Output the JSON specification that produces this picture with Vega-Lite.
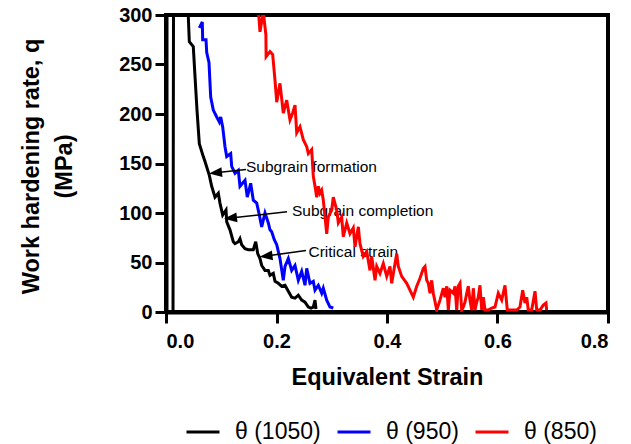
{
  "$schema": "https://vega.github.io/schema/vega-lite/v6.json",
  "width": 442,
  "height": 297,
  "autosize": {"type": "none"},
  "padding": {"left": 166, "top": 15, "right": 23, "bottom": 132},
  "background": "white",
  "datasets": {
    "curves": [
      {"series": "θ (1050)", "strain": 0.0127, "q": 1},
      {"series": "θ (1050)", "strain": 0.0136, "q": 310},
      {"series": "θ (1050)", "strain": 0.0389, "q": 310},
      {"series": "θ (1050)", "strain": 0.0404, "q": 298},
      {"series": "θ (1050)", "strain": 0.0422, "q": 273},
      {"series": "θ (1050)", "strain": 0.0494, "q": 268},
      {"series": "θ (1050)", "strain": 0.0525, "q": 238},
      {"series": "θ (1050)", "strain": 0.0561, "q": 204},
      {"series": "θ (1050)", "strain": 0.0603, "q": 170},
      {"series": "θ (1050)", "strain": 0.0675, "q": 157},
      {"series": "θ (1050)", "strain": 0.0706, "q": 152},
      {"series": "θ (1050)", "strain": 0.0784, "q": 138},
      {"series": "θ (1050)", "strain": 0.0827, "q": 127},
      {"series": "θ (1050)", "strain": 0.0887, "q": 116},
      {"series": "θ (1050)", "strain": 0.0947, "q": 120},
      {"series": "θ (1050)", "strain": 0.0977, "q": 110},
      {"series": "θ (1050)", "strain": 0.1026, "q": 98},
      {"series": "θ (1050)", "strain": 0.1086, "q": 103},
      {"series": "θ (1050)", "strain": 0.1099, "q": 91},
      {"series": "θ (1050)", "strain": 0.1158, "q": 83},
      {"series": "θ (1050)", "strain": 0.1218, "q": 71},
      {"series": "θ (1050)", "strain": 0.1249, "q": 69},
      {"series": "θ (1050)", "strain": 0.1309, "q": 71},
      {"series": "θ (1050)", "strain": 0.1339, "q": 74},
      {"series": "θ (1050)", "strain": 0.1370, "q": 68},
      {"series": "θ (1050)", "strain": 0.1430, "q": 64},
      {"series": "θ (1050)", "strain": 0.1490, "q": 63},
      {"series": "θ (1050)", "strain": 0.1580, "q": 63},
      {"series": "θ (1050)", "strain": 0.1624, "q": 71},
      {"series": "θ (1050)", "strain": 0.1660, "q": 59},
      {"series": "θ (1050)", "strain": 0.1701, "q": 54},
      {"series": "θ (1050)", "strain": 0.1732, "q": 47},
      {"series": "θ (1050)", "strain": 0.1792, "q": 42},
      {"series": "θ (1050)", "strain": 0.1852, "q": 42},
      {"series": "θ (1050)", "strain": 0.1882, "q": 37},
      {"series": "θ (1050)", "strain": 0.1942, "q": 39},
      {"series": "θ (1050)", "strain": 0.1973, "q": 31},
      {"series": "θ (1050)", "strain": 0.2033, "q": 29},
      {"series": "θ (1050)", "strain": 0.2094, "q": 26},
      {"series": "θ (1050)", "strain": 0.2154, "q": 27},
      {"series": "θ (1050)", "strain": 0.2214, "q": 21},
      {"series": "θ (1050)", "strain": 0.2275, "q": 15},
      {"series": "θ (1050)", "strain": 0.2335, "q": 14},
      {"series": "θ (1050)", "strain": 0.2395, "q": 17},
      {"series": "θ (1050)", "strain": 0.2456, "q": 12},
      {"series": "θ (1050)", "strain": 0.2516, "q": 10},
      {"series": "θ (1050)", "strain": 0.2576, "q": 5},
      {"series": "θ (1050)", "strain": 0.2624, "q": 4},
      {"series": "θ (1050)", "strain": 0.2666, "q": 5},
      {"series": "θ (1050)", "strain": 0.2697, "q": 12},
      {"series": "θ (1050)", "strain": 0.2715, "q": 3},

      {"series": "θ (950)", "strain": 0.0603, "q": 287},
      {"series": "θ (950)", "strain": 0.0657, "q": 293},
      {"series": "θ (950)", "strain": 0.0664, "q": 275},
      {"series": "θ (950)", "strain": 0.0724, "q": 275},
      {"series": "θ (950)", "strain": 0.0737, "q": 262},
      {"series": "θ (950)", "strain": 0.0778, "q": 252},
      {"series": "θ (950)", "strain": 0.0809, "q": 217},
      {"series": "θ (950)", "strain": 0.0856, "q": 204},
      {"series": "θ (950)", "strain": 0.0918, "q": 197},
      {"series": "θ (950)", "strain": 0.0965, "q": 192},
      {"series": "θ (950)", "strain": 0.0990, "q": 197},
      {"series": "θ (950)", "strain": 0.1026, "q": 187},
      {"series": "θ (950)", "strain": 0.1068, "q": 167},
      {"series": "θ (950)", "strain": 0.1099, "q": 157},
      {"series": "θ (950)", "strain": 0.1171, "q": 160},
      {"series": "θ (950)", "strain": 0.1189, "q": 147},
      {"series": "θ (950)", "strain": 0.1249, "q": 140},
      {"series": "θ (950)", "strain": 0.1309, "q": 143},
      {"series": "θ (950)", "strain": 0.1339, "q": 127},
      {"series": "θ (950)", "strain": 0.1430, "q": 133},
      {"series": "θ (950)", "strain": 0.1471, "q": 116},
      {"series": "θ (950)", "strain": 0.1533, "q": 130},
      {"series": "θ (950)", "strain": 0.1580, "q": 113},
      {"series": "θ (950)", "strain": 0.1642, "q": 110},
      {"series": "θ (950)", "strain": 0.1689, "q": 98},
      {"series": "θ (950)", "strain": 0.1732, "q": 86},
      {"series": "θ (950)", "strain": 0.1792, "q": 100},
      {"series": "θ (950)", "strain": 0.1852, "q": 90},
      {"series": "θ (950)", "strain": 0.1882, "q": 83},
      {"series": "θ (950)", "strain": 0.1913, "q": 81},
      {"series": "θ (950)", "strain": 0.1960, "q": 73},
      {"series": "θ (950)", "strain": 0.2004, "q": 68},
      {"series": "θ (950)", "strain": 0.2063, "q": 54},
      {"series": "θ (950)", "strain": 0.2123, "q": 32},
      {"series": "θ (950)", "strain": 0.2154, "q": 46},
      {"series": "θ (950)", "strain": 0.2214, "q": 54},
      {"series": "θ (950)", "strain": 0.2275, "q": 42},
      {"series": "θ (950)", "strain": 0.2335, "q": 47},
      {"series": "θ (950)", "strain": 0.2395, "q": 32},
      {"series": "θ (950)", "strain": 0.2456, "q": 41},
      {"series": "θ (950)", "strain": 0.2516, "q": 27},
      {"series": "θ (950)", "strain": 0.2547, "q": 44},
      {"series": "θ (950)", "strain": 0.2606, "q": 29},
      {"series": "θ (950)", "strain": 0.2666, "q": 31},
      {"series": "θ (950)", "strain": 0.2697, "q": 22},
      {"series": "θ (950)", "strain": 0.2757, "q": 27},
      {"series": "θ (950)", "strain": 0.2818, "q": 19},
      {"series": "θ (950)", "strain": 0.2847, "q": 24},
      {"series": "θ (950)", "strain": 0.2909, "q": 12},
      {"series": "θ (950)", "strain": 0.2968, "q": 5},
      {"series": "θ (950)", "strain": 0.3028, "q": 4},

      {"series": "θ (850)", "strain": 0.1671, "q": 306},
      {"series": "θ (850)", "strain": 0.1701, "q": 283},
      {"series": "θ (850)", "strain": 0.1761, "q": 303},
      {"series": "θ (850)", "strain": 0.1808, "q": 280},
      {"series": "θ (850)", "strain": 0.1812, "q": 258},
      {"series": "θ (850)", "strain": 0.1882, "q": 263},
      {"series": "θ (850)", "strain": 0.1931, "q": 260},
      {"series": "θ (850)", "strain": 0.1973, "q": 234},
      {"series": "θ (850)", "strain": 0.2004, "q": 212},
      {"series": "θ (850)", "strain": 0.2063, "q": 231},
      {"series": "θ (850)", "strain": 0.2123, "q": 201},
      {"series": "θ (850)", "strain": 0.2185, "q": 214},
      {"series": "θ (850)", "strain": 0.2244, "q": 194},
      {"series": "θ (850)", "strain": 0.2293, "q": 201},
      {"series": "θ (850)", "strain": 0.2335, "q": 209},
      {"series": "θ (850)", "strain": 0.2366, "q": 181},
      {"series": "θ (850)", "strain": 0.2425, "q": 187},
      {"series": "θ (850)", "strain": 0.2485, "q": 174},
      {"series": "θ (850)", "strain": 0.2547, "q": 167},
      {"series": "θ (850)", "strain": 0.2576, "q": 160},
      {"series": "θ (850)", "strain": 0.2637, "q": 164},
      {"series": "θ (850)", "strain": 0.2666, "q": 137},
      {"series": "θ (850)", "strain": 0.2697, "q": 127},
      {"series": "θ (850)", "strain": 0.2728, "q": 116},
      {"series": "θ (850)", "strain": 0.2757, "q": 127},
      {"series": "θ (850)", "strain": 0.2787, "q": 120},
      {"series": "θ (850)", "strain": 0.2818, "q": 123},
      {"series": "θ (850)", "strain": 0.2847, "q": 113},
      {"series": "θ (850)", "strain": 0.2909, "q": 79},
      {"series": "θ (850)", "strain": 0.2938, "q": 96},
      {"series": "θ (850)", "strain": 0.2999, "q": 103},
      {"series": "θ (850)", "strain": 0.3028, "q": 116},
      {"series": "θ (850)", "strain": 0.3090, "q": 103},
      {"series": "θ (850)", "strain": 0.3119, "q": 90},
      {"series": "θ (850)", "strain": 0.3180, "q": 96},
      {"series": "θ (850)", "strain": 0.3209, "q": 76},
      {"series": "θ (850)", "strain": 0.3271, "q": 90},
      {"series": "θ (850)", "strain": 0.3330, "q": 79},
      {"series": "θ (850)", "strain": 0.3390, "q": 85},
      {"series": "θ (850)", "strain": 0.3421, "q": 66},
      {"series": "θ (850)", "strain": 0.3481, "q": 86},
      {"series": "θ (850)", "strain": 0.3511, "q": 69},
      {"series": "θ (850)", "strain": 0.3571, "q": 56},
      {"series": "θ (850)", "strain": 0.3633, "q": 61},
      {"series": "θ (850)", "strain": 0.3692, "q": 42},
      {"series": "θ (850)", "strain": 0.3723, "q": 56},
      {"series": "θ (850)", "strain": 0.3783, "q": 32},
      {"series": "θ (850)", "strain": 0.3814, "q": 46},
      {"series": "θ (850)", "strain": 0.3873, "q": 39},
      {"series": "θ (850)", "strain": 0.3933, "q": 49},
      {"series": "θ (850)", "strain": 0.3995, "q": 36},
      {"series": "θ (850)", "strain": 0.4054, "q": 46},
      {"series": "θ (850)", "strain": 0.4085, "q": 29},
      {"series": "θ (850)", "strain": 0.4176, "q": 59},
      {"series": "θ (850)", "strain": 0.4205, "q": 46},
      {"series": "θ (850)", "strain": 0.4266, "q": 36},
      {"series": "θ (850)", "strain": 0.4357, "q": 29},
      {"series": "θ (850)", "strain": 0.4416, "q": 22},
      {"series": "θ (850)", "strain": 0.4476, "q": 15},
      {"series": "θ (850)", "strain": 0.4538, "q": 26},
      {"series": "θ (850)", "strain": 0.4597, "q": 34},
      {"series": "θ (850)", "strain": 0.4657, "q": 44},
      {"series": "θ (850)", "strain": 0.4688, "q": 46},
      {"series": "θ (850)", "strain": 0.4719, "q": 32},
      {"series": "θ (850)", "strain": 0.4748, "q": 29},
      {"series": "θ (850)", "strain": 0.4778, "q": 19},
      {"series": "θ (850)", "strain": 0.4809, "q": 32},
      {"series": "θ (850)", "strain": 0.4838, "q": 19},
      {"series": "θ (850)", "strain": 0.4900, "q": 2},
      {"series": "θ (850)", "strain": 0.4959, "q": 12},
      {"series": "θ (850)", "strain": 0.5019, "q": 24},
      {"series": "θ (850)", "strain": 0.5050, "q": 15},
      {"series": "θ (850)", "strain": 0.5081, "q": 26},
      {"series": "θ (850)", "strain": 0.5110, "q": 2},
      {"series": "θ (850)", "strain": 0.5140, "q": 22},
      {"series": "θ (850)", "strain": 0.5200, "q": 19},
      {"series": "θ (850)", "strain": 0.5231, "q": 26},
      {"series": "θ (850)", "strain": 0.5262, "q": 2},
      {"series": "θ (850)", "strain": 0.5290, "q": 26},
      {"series": "θ (850)", "strain": 0.5321, "q": 29},
      {"series": "θ (850)", "strain": 0.5352, "q": 2},
      {"series": "θ (850)", "strain": 0.5381, "q": 5},
      {"series": "θ (850)", "strain": 0.5412, "q": 10},
      {"series": "θ (850)", "strain": 0.5443, "q": 19},
      {"series": "θ (850)", "strain": 0.5471, "q": 26},
      {"series": "θ (850)", "strain": 0.5502, "q": 12},
      {"series": "θ (850)", "strain": 0.5533, "q": 2},
      {"series": "θ (850)", "strain": 0.5562, "q": 24},
      {"series": "θ (850)", "strain": 0.5593, "q": 2},
      {"series": "θ (850)", "strain": 0.5624, "q": 10},
      {"series": "θ (850)", "strain": 0.5652, "q": 15},
      {"series": "θ (850)", "strain": 0.5683, "q": 27},
      {"series": "θ (850)", "strain": 0.5714, "q": 2},
      {"series": "θ (850)", "strain": 0.5743, "q": 15},
      {"series": "θ (850)", "strain": 0.5774, "q": 2},
      {"series": "θ (850)", "strain": 0.5833, "q": 2},
      {"series": "θ (850)", "strain": 0.5895, "q": 4},
      {"series": "θ (850)", "strain": 0.5955, "q": 5},
      {"series": "θ (850)", "strain": 0.6014, "q": 19},
      {"series": "θ (850)", "strain": 0.6076, "q": 12},
      {"series": "θ (850)", "strain": 0.6136, "q": 27},
      {"series": "θ (850)", "strain": 0.6177, "q": 2},
      {"series": "θ (850)", "strain": 0.6226, "q": 2},
      {"series": "θ (850)", "strain": 0.6348, "q": 2},
      {"series": "θ (850)", "strain": 0.6407, "q": 5},
      {"series": "θ (850)", "strain": 0.6456, "q": 22},
      {"series": "θ (850)", "strain": 0.6498, "q": 9},
      {"series": "θ (850)", "strain": 0.6529, "q": 15},
      {"series": "θ (850)", "strain": 0.6557, "q": 2},
      {"series": "θ (850)", "strain": 0.6619, "q": 2},
      {"series": "θ (850)", "strain": 0.6679, "q": 21},
      {"series": "θ (850)", "strain": 0.6710, "q": 2},
      {"series": "θ (850)", "strain": 0.6769, "q": 2},
      {"series": "θ (850)", "strain": 0.6829, "q": 7},
      {"series": "θ (850)", "strain": 0.6878, "q": 9},
      {"series": "θ (850)", "strain": 0.6890, "q": 2}
    ],
    "notes": [
      {"label": "Subgrain formation", "strain": 0.1448, "q": 146.5},
      {"label": "Subgrain completion", "strain": 0.2281, "q": 102.5},
      {"label": "Critical strain", "strain": 0.2579, "q": 61.1}
    ],
    "arrows": [
      {"label": "Subgrain formation", "tailStrain": 0.1448, "tailQ": 143.9, "headStrain": 0.0896, "headQ": 140.6},
      {"label": "Subgrain completion", "tailStrain": 0.2190, "tailQ": 101.3, "headStrain": 0.1167, "headQ": 94.9},
      {"label": "Critical strain", "tailStrain": 0.2534, "tailQ": 62.1, "headStrain": 0.1810, "headQ": 56.5}
    ]
  },
  "layer": [
    {
      "data": {"name": "notes"},
      "mark": {"type": "text", "align": "left", "baseline": "middle", "font": "Liberation Sans", "fontSize": 15.5, "color": "black"},
      "encoding": {
        "x": {"field": "strain", "type": "quantitative"},
        "y": {"field": "q", "type": "quantitative"},
        "text": {"field": "label"}
      }
    },
    {
      "data": {"name": "curves"},
      "mark": {"type": "line", "strokeWidth": 3, "clip": true, "strokeJoin": "miter"},
      "encoding": {
        "x": {"field": "strain", "type": "quantitative", "scale": {"domain": [0, 0.8], "nice": false}, "axis": {"values": [0, 0.2, 0.4, 0.6, 0.8], "format": ".1f", "title": "Equivalent Strain", "titleBaseline": "alphabetic", "titleY": 72, "titleX": 221}},
        "y": {"field": "q", "type": "quantitative", "scale": {"domain": [0, 300], "nice": false}, "axis": {"values": [0, 50, 100, 150, 200, 250, 300], "title": ["Work hardening rate, q", "(MPa)"], "titleBaseline": "middle", "titleX": -135, "titleY": 151, "titleLineHeight": 33}},
        "color": {"field": "series", "type": "nominal", "scale": {"domain": ["θ (1050)", "θ (950)", "θ (850)"], "range": ["#000000", "#0000ff", "#ff0000"]},
          "legend": {"orient": "none", "legendX": 19, "legendY": 399, "direction": "horizontal", "title": null, "symbolType": "stroke", "symbolSize": 1089, "symbolStrokeWidth": 3, "labelFontSize": 23, "labelFont": "Liberation Sans", "labelColor": "black", "labelOffset": 14, "columnPadding": 10, "padding": 0, "labelLimit": 300}}
      }
    },
    {
      "data": {"name": "arrows"},
      "mark": {"type": "rule", "color": "black", "strokeWidth": 1.5},
      "encoding": {
        "x": {"field": "tailStrain", "type": "quantitative"},
        "y": {"field": "tailQ", "type": "quantitative"},
        "x2": {"field": "headStrain"},
        "y2": {"field": "headQ"}
      }
    },
    {
      "data": {"name": "arrows"},
      "mark": {"type": "point", "shape": "M-1,0L1,-0.75L1,0.75Z", "size": 169, "filled": true, "color": "black", "opacity": 1, "strokeWidth": 0, "angle": 353.5},
      "encoding": {
        "x": {"field": "headStrain", "type": "quantitative"},
        "y": {"field": "headQ", "type": "quantitative"}
      }
    }
  ],
  "config": {
    "font": "Liberation Sans",
    "view": {"stroke": "black", "strokeWidth": 4},
    "axis": {
      "grid": false,
      "domainColor": "black",
      "domainWidth": 4,
      "tickColor": "black",
      "tickWidth": 3,
      "tickSize": 11,
      "labelFont": "Liberation Sans",
      "labelFontSize": 20,
      "labelFontWeight": "bold",
      "labelColor": "black",
      "titleFont": "Liberation Sans",
      "titleFontSize": 23.5,
      "titleFontWeight": "bold",
      "titleColor": "black"
    },
    "axisX": {"labelPadding": 8},
    "axisY": {"labelPadding": 3}
  }
}
